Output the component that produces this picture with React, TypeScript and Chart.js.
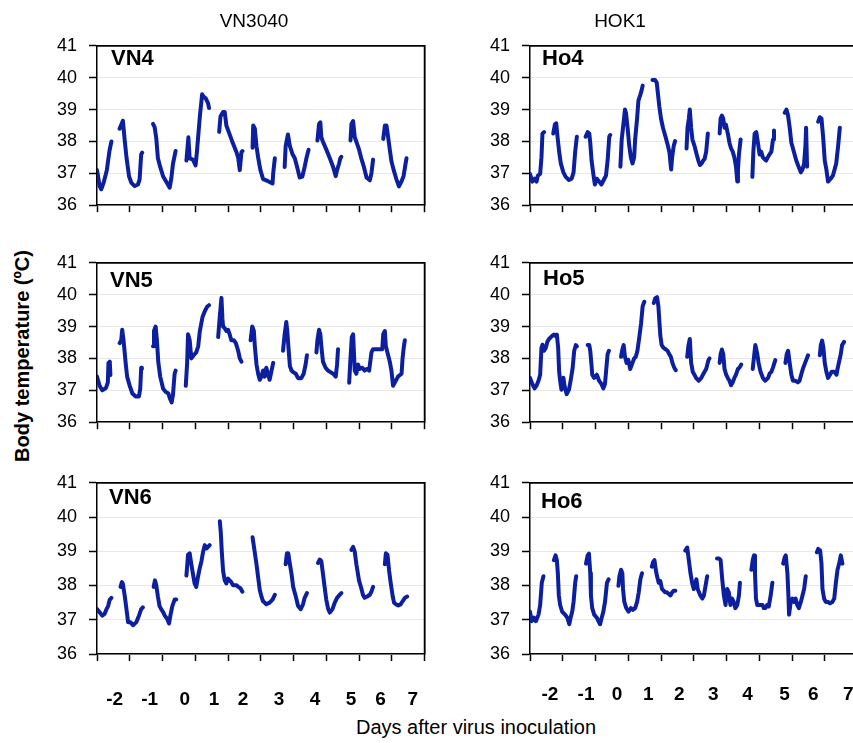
import React, { useEffect, useRef } from "react";
import { Chart, registerables } from "chart.js";

Chart.register(...registerables);

type Pt = [number, number];
type Seg = Pt[];

// x = recording time in tick units (one tick = one day), y = body temperature (°C)
const Y_TICKS = [36, 37, 38, 39, 40, 41];
const DAY_LABELS = ["-2", "-1", "0", "1", "2", "3", "4", "5", "6", "7"];
const LEFT_LABEL_POS = [0.54, 1.61, 2.68, 3.57, 4.46, 5.56, 6.66, 7.76, 8.66, 9.64];
const RIGHT_LABEL_POS = [0.61, 1.71, 2.66, 3.61, 4.56, 5.6, 6.64, 7.77, 8.65, 9.72];

const VN4: Seg[] = [
  [[0, 37.1], [0.08, 36.6], [0.13, 36.5], [0.2, 36.7], [0.3, 37.1], [0.38, 37.7], [0.44, 38.0]],
  [[0.69, 38.4], [0.79, 38.65], [0.85, 38.0], [0.9, 37.5], [0.98, 36.9], [1.05, 36.7], [1.15, 36.6], [1.25, 36.65], [1.3, 36.8], [1.35, 37.6], [1.38, 37.65]],
  [[1.71, 38.55], [1.76, 38.45], [1.81, 38.1], [1.86, 37.47], [1.93, 37.2], [2.02, 36.9], [2.12, 36.73], [2.22, 36.55], [2.27, 36.85], [2.32, 37.3], [2.4, 37.7]],
  [[2.73, 37.4], [2.79, 38.13], [2.83, 37.47], [2.93, 37.43], [3.01, 37.25], [3.05, 37.66], [3.14, 38.78], [3.21, 39.48], [3.26, 39.4], [3.32, 39.35], [3.39, 39.2], [3.42, 39.05]],
  [[3.73, 38.3], [3.77, 38.78], [3.85, 38.92], [3.9, 38.92], [3.95, 38.5], [4.05, 38.22], [4.15, 37.94], [4.26, 37.66], [4.31, 37.5], [4.36, 37.1], [4.41, 37.66], [4.44, 37.7]],
  [[4.75, 37.8], [4.77, 38.5], [4.82, 38.4], [4.87, 37.85], [4.92, 37.5], [4.99, 37.1], [5.07, 36.82], [5.17, 36.78], [5.27, 36.73], [5.36, 36.68], [5.38, 37.0], [5.43, 37.47]],
  [[5.73, 37.2], [5.76, 37.85], [5.83, 38.22], [5.89, 37.85], [5.97, 37.6], [6.04, 37.47], [6.11, 37.2], [6.19, 36.87], [6.27, 36.9], [6.34, 37.2], [6.4, 37.5], [6.46, 37.74]],
  [[6.73, 38.03], [6.78, 38.55], [6.82, 38.6], [6.85, 38.13], [6.9, 37.99], [7.0, 37.75], [7.11, 37.47], [7.21, 37.2], [7.29, 36.91], [7.33, 37.1], [7.39, 37.3], [7.43, 37.47], [7.46, 37.52]],
  [[7.74, 38.03], [7.77, 38.55], [7.82, 38.64], [7.87, 38.13], [7.92, 37.99], [8.0, 37.75], [8.07, 37.47], [8.15, 37.2], [8.23, 36.87], [8.33, 36.78], [8.38, 37.0], [8.43, 37.43]],
  [[8.74, 38.08], [8.79, 38.5], [8.84, 38.5], [8.89, 38.13], [8.94, 37.75], [8.99, 37.38], [9.06, 37.1], [9.14, 36.82], [9.22, 36.59], [9.29, 36.73], [9.36, 36.91], [9.42, 37.29], [9.45, 37.47]],
];

const VN5: Seg[] = [
  [[0, 37.43], [0.08, 37.14], [0.16, 37.0], [0.27, 37.07], [0.33, 37.24], [0.35, 37.86], [0.39, 37.9], [0.41, 37.48]],
  [[0.69, 38.48], [0.74, 38.57], [0.77, 38.9], [0.81, 38.57], [0.88, 37.81], [0.92, 37.43], [1.0, 37.14], [1.08, 36.9], [1.18, 36.81], [1.28, 36.81], [1.32, 37.05], [1.35, 37.71], [1.37, 37.67]],
  [[1.71, 38.38], [1.74, 38.86], [1.79, 39.0], [1.83, 38.57], [1.87, 37.9], [1.93, 37.43], [2.02, 37.05], [2.1, 36.95], [2.18, 36.9], [2.22, 36.76], [2.28, 36.62], [2.32, 36.86], [2.37, 37.52], [2.4, 37.62]],
  [[2.71, 37.14], [2.75, 37.81], [2.78, 38.76], [2.83, 38.57], [2.88, 38.0], [2.95, 38.1], [3.03, 38.19], [3.09, 38.38], [3.14, 38.86], [3.22, 39.29], [3.29, 39.48], [3.36, 39.62], [3.42, 39.67]],
  [[3.7, 38.67], [3.75, 39.33], [3.8, 39.9], [3.83, 39.24], [3.85, 39.0], [3.9, 38.95], [3.95, 38.86], [4.0, 38.9], [4.05, 38.76], [4.1, 38.57], [4.18, 38.57], [4.24, 38.48], [4.31, 38.24], [4.36, 38.0], [4.41, 37.9]],
  [[4.69, 38.57], [4.74, 39.0], [4.79, 38.86], [4.82, 38.38], [4.87, 37.81], [4.92, 37.52], [4.97, 37.33], [5.02, 37.43], [5.07, 37.62], [5.12, 37.43], [5.17, 37.71], [5.22, 37.52], [5.27, 37.33], [5.33, 37.62], [5.38, 37.86]],
  [[5.68, 38.24], [5.73, 38.76], [5.78, 39.14], [5.81, 38.86], [5.85, 38.29], [5.89, 37.76], [5.94, 37.62], [5.99, 37.57], [6.07, 37.52], [6.14, 37.38], [6.24, 37.38], [6.31, 37.52], [6.37, 37.81], [6.41, 38.1]],
  [[6.7, 38.19], [6.73, 38.57], [6.78, 38.9], [6.82, 38.76], [6.85, 38.38], [6.9, 37.9], [6.98, 37.71], [7.05, 37.62], [7.13, 37.57], [7.21, 37.52], [7.29, 37.43], [7.33, 37.81], [7.36, 38.29]],
  [[7.7, 37.24], [7.74, 38.0], [7.78, 38.67], [7.82, 38.76], [7.87, 37.62], [7.92, 37.52], [7.97, 37.81], [8.02, 37.67], [8.1, 37.71], [8.17, 37.62], [8.24, 37.67], [8.31, 37.62],
   [8.38, 38.19], [8.43, 38.29], [8.53, 38.29], [8.63, 38.29], [8.71, 38.29], [8.74, 38.76], [8.79, 38.86], [8.82, 38.38], [8.89, 38.1], [8.94, 37.9], [8.99, 37.62], [9.04, 37.14], [9.09, 37.24], [9.14, 37.33], [9.19, 37.43], [9.25, 37.48], [9.3, 37.52], [9.33, 38.0], [9.37, 38.38], [9.4, 38.57]],
];

const VN6: Seg[] = [
  [[0, 37.31], [0.08, 37.22], [0.16, 37.12], [0.23, 37.17], [0.29, 37.31], [0.34, 37.4], [0.39, 37.59], [0.44, 37.64]],
  [[0.72, 37.96], [0.76, 38.1], [0.79, 38.05], [0.85, 37.68], [0.9, 37.31], [0.95, 36.93], [1.02, 36.93], [1.1, 36.84], [1.2, 36.93], [1.28, 37.12], [1.35, 37.31], [1.4, 37.36]],
  [[1.73, 37.96], [1.77, 38.15], [1.81, 38.01], [1.86, 37.68], [1.91, 37.4], [1.96, 37.31], [2.02, 37.22], [2.07, 37.12], [2.14, 37.03], [2.2, 36.89], [2.24, 37.12], [2.3, 37.4], [2.37, 37.59], [2.42, 37.59]],
  [[2.73, 38.29], [2.78, 38.9], [2.83, 38.94], [2.88, 38.62], [2.93, 38.34], [2.98, 38.06], [3.03, 37.96], [3.08, 38.24], [3.14, 38.52], [3.19, 38.71], [3.24, 38.99], [3.29, 39.18], [3.34, 39.08], [3.39, 39.13], [3.44, 39.18]],
  [[3.75, 39.88], [3.78, 39.55], [3.81, 38.99], [3.85, 38.43], [3.9, 38.15], [3.95, 38.06], [4.0, 38.2], [4.05, 38.15], [4.1, 38.1], [4.15, 38.01], [4.26, 38.01], [4.31, 37.96], [4.38, 37.92], [4.44, 37.82]],
  [[4.75, 39.41], [4.8, 39.08], [4.87, 38.62], [4.92, 38.24], [4.97, 37.87], [5.02, 37.68], [5.07, 37.54], [5.12, 37.5], [5.17, 37.45], [5.27, 37.5], [5.36, 37.59], [5.43, 37.73]],
  [[5.76, 38.62], [5.8, 38.94], [5.84, 38.94], [5.89, 38.62], [5.94, 38.34], [5.99, 37.96], [6.07, 37.68], [6.14, 37.4], [6.22, 37.31], [6.29, 37.45], [6.34, 37.64], [6.41, 37.78]],
  [[6.75, 38.66], [6.8, 38.76], [6.85, 38.71], [6.9, 38.34], [6.95, 37.96], [7.0, 37.59], [7.06, 37.31], [7.11, 37.21], [7.19, 37.31], [7.26, 37.5], [7.33, 37.64], [7.41, 37.73], [7.46, 37.78]],
  [[7.77, 39.04], [7.82, 39.13], [7.87, 38.99], [7.92, 38.62], [8.0, 38.15], [8.07, 37.92], [8.12, 37.73], [8.17, 37.64], [8.25, 37.68], [8.33, 37.73], [8.38, 37.82], [8.43, 37.96]],
  [[8.79, 38.62], [8.82, 38.94], [8.87, 38.9], [8.92, 38.43], [8.97, 38.06], [9.03, 37.68], [9.07, 37.5], [9.13, 37.45], [9.2, 37.42], [9.27, 37.45], [9.33, 37.54], [9.4, 37.64], [9.47, 37.68]],
];

const HO4: Seg[] = [
  [[0, 36.98], [0.07, 36.74], [0.14, 36.83], [0.2, 36.74], [0.24, 36.93], [0.31, 36.98], [0.35, 37.5], [0.38, 38.25], [0.43, 38.29]],
  [[0.71, 38.25], [0.76, 38.53], [0.8, 38.57], [0.84, 38.15], [0.89, 37.68], [0.94, 37.31], [1.02, 37.03], [1.09, 36.89], [1.19, 36.79], [1.27, 36.83], [1.33, 37.03], [1.38, 37.68], [1.43, 38.15]],
  [[1.7, 38.15], [1.76, 38.29], [1.81, 38.25], [1.84, 37.96], [1.88, 37.4], [1.94, 36.93], [1.98, 36.65], [2.04, 36.83], [2.11, 36.74], [2.18, 36.65], [2.27, 36.83], [2.32, 36.93], [2.37, 37.4], [2.42, 38.15], [2.45, 38.2]],
  [[2.76, 37.21], [2.8, 38.06], [2.86, 38.62], [2.9, 39.0], [2.93, 38.9], [2.98, 38.43], [3.03, 37.87], [3.08, 37.5], [3.13, 37.31], [3.18, 37.5], [3.21, 38.06], [3.27, 38.72], [3.31, 39.28], [3.37, 39.47], [3.41, 39.61], [3.44, 39.75]],
  [[3.74, 39.93], [3.82, 39.93], [3.87, 39.84], [3.9, 39.56], [3.95, 39.09], [4.0, 38.72], [4.06, 38.43], [4.11, 38.25], [4.16, 38.06], [4.21, 37.87], [4.26, 37.64], [4.29, 37.31], [4.31, 37.12], [4.34, 37.5], [4.39, 37.87], [4.43, 38.01]],
  [[4.78, 37.78], [4.81, 38.43], [4.85, 38.72], [4.88, 39.0], [4.92, 38.43], [4.96, 38.06], [5.02, 37.87], [5.09, 37.59], [5.14, 37.4], [5.19, 37.26], [5.24, 37.31], [5.29, 37.4], [5.33, 37.45], [5.38, 37.68], [5.43, 38.25]],
  [[5.79, 38.25], [5.82, 38.72], [5.86, 38.81], [5.9, 38.72], [5.94, 38.43], [5.98, 38.53], [6.04, 38.25], [6.09, 37.96], [6.14, 37.78], [6.19, 37.68], [6.24, 37.5], [6.29, 37.21], [6.33, 36.74], [6.35, 37.12], [6.38, 37.59], [6.43, 38.06]],
  [[6.79, 36.89], [6.82, 37.68], [6.86, 38.25], [6.91, 38.29], [6.96, 37.96], [7.01, 37.59], [7.06, 37.68], [7.11, 37.5], [7.16, 37.45], [7.21, 37.4], [7.26, 37.5], [7.31, 37.59], [7.37, 37.68], [7.42, 38.06], [7.45, 38.34]],
  [[7.78, 38.9], [7.83, 39.0], [7.88, 38.81], [7.93, 38.43], [7.98, 37.96], [8.03, 37.78], [8.08, 37.59], [8.13, 37.4], [8.2, 37.21], [8.27, 37.03], [8.32, 37.12], [8.37, 37.31], [8.41, 37.87], [8.43, 38.43], [8.46, 37.21]],
  [[8.8, 38.62], [8.85, 38.76], [8.9, 38.72], [8.95, 38.15], [9.0, 37.4], [9.05, 37.12], [9.1, 36.74], [9.18, 36.83], [9.25, 36.93], [9.3, 37.12], [9.35, 37.31], [9.41, 37.87], [9.46, 38.43]],
];

const HO5: Seg[] = [
  [[0, 37.39], [0.07, 37.2], [0.14, 37.06], [0.2, 37.15], [0.26, 37.3], [0.31, 37.49], [0.35, 38.33], [0.38, 38.43], [0.43, 38.24], [0.48, 38.33], [0.53, 38.52], [0.58, 38.61], [0.63, 38.66], [0.68, 38.71], [0.73, 38.75], [0.78, 38.71], [0.82, 38.75], [0.86, 38.33], [0.89, 37.58], [0.92, 37.3], [0.96, 37.02], [0.99, 37.3], [1.02, 37.39], [1.06, 37.11], [1.12, 36.88], [1.19, 37.02], [1.24, 37.3], [1.3, 37.68], [1.35, 38.24], [1.4, 38.42], [1.43, 38.38]],
  [[1.76, 38.42], [1.81, 38.42], [1.84, 38.24], [1.88, 37.77], [1.9, 37.49], [1.96, 37.39], [2.04, 37.49], [2.11, 37.3], [2.18, 37.2], [2.24, 37.06], [2.29, 37.2], [2.33, 37.68], [2.37, 38.14], [2.41, 38.24]],
  [[2.78, 38.05], [2.81, 38.24], [2.86, 38.42], [2.9, 38.05], [2.95, 37.86], [3.0, 37.96], [3.06, 37.67], [3.13, 37.86], [3.18, 38.0], [3.23, 38.05], [3.28, 38.24], [3.33, 38.61], [3.39, 39.08], [3.44, 39.64], [3.49, 39.78]],
  [[3.78, 39.74], [3.82, 39.88], [3.88, 39.92], [3.92, 39.64], [3.95, 39.17], [3.98, 38.71], [4.02, 38.42], [4.08, 38.33], [4.15, 38.28], [4.2, 38.24], [4.25, 38.14], [4.3, 38.05], [4.35, 37.86], [4.4, 37.72], [4.45, 37.63]],
  [[4.8, 38.05], [4.84, 38.42], [4.88, 38.61], [4.92, 37.86], [4.97, 37.58], [5.02, 37.49], [5.07, 37.39], [5.15, 37.3], [5.23, 37.39], [5.28, 37.49], [5.33, 37.58], [5.38, 37.67], [5.45, 37.95], [5.48, 38.0]],
  [[5.79, 37.86], [5.82, 38.14], [5.86, 38.28], [5.9, 38.14], [5.94, 37.67], [5.99, 37.49], [6.04, 37.39], [6.09, 37.3], [6.14, 37.16], [6.19, 37.25], [6.24, 37.39], [6.29, 37.49], [6.35, 37.67], [6.4, 37.72], [6.45, 37.81]],
  [[6.8, 37.67], [6.84, 38.05], [6.88, 38.42], [6.94, 38.14], [6.98, 37.86], [7.04, 37.58], [7.11, 37.39], [7.18, 37.3], [7.27, 37.39], [7.32, 37.53], [7.37, 37.58], [7.42, 37.72], [7.49, 37.95]],
  [[7.8, 37.86], [7.84, 38.14], [7.88, 38.24], [7.93, 37.86], [7.98, 37.49], [8.03, 37.3], [8.1, 37.3], [8.18, 37.25], [8.23, 37.3], [8.28, 37.49], [8.33, 37.67], [8.4, 37.86], [8.49, 38.1]],
  [[8.85, 38.1], [8.88, 38.42], [8.92, 38.56], [8.96, 38.33], [9.0, 37.86], [9.05, 37.58], [9.1, 37.39], [9.16, 37.49], [9.21, 37.58], [9.29, 37.58], [9.36, 37.49], [9.39, 37.67], [9.43, 37.86], [9.49, 38.14], [9.53, 38.42], [9.59, 38.52]],
];

const HO6: Seg[] = [
  [[0, 37.24], [0.05, 36.96], [0.12, 37.06], [0.18, 36.96], [0.26, 37.15], [0.31, 37.43], [0.36, 38.08], [0.41, 38.27]],
  [[0.73, 38.74], [0.78, 38.88], [0.82, 38.74], [0.85, 38.36], [0.88, 37.71], [0.92, 37.43], [0.98, 37.24], [1.07, 37.15], [1.14, 37.06], [1.2, 36.87], [1.24, 37.06], [1.29, 37.24], [1.33, 37.52], [1.38, 38.08], [1.41, 38.27]],
  [[1.71, 38.64], [1.76, 38.88], [1.8, 38.93], [1.84, 38.36], [1.86, 37.71], [1.9, 37.34], [1.96, 37.15], [2.04, 37.06], [2.09, 36.96], [2.14, 36.87], [2.19, 37.06], [2.24, 37.24], [2.29, 37.52], [2.35, 38.08], [2.4, 38.18]],
  [[2.7, 37.99], [2.73, 38.27], [2.78, 38.46], [2.82, 38.36], [2.84, 37.9], [2.88, 37.52], [2.94, 37.34], [3.01, 37.24], [3.08, 37.34], [3.14, 37.29], [3.21, 37.34], [3.27, 37.52], [3.32, 37.8], [3.37, 38.18], [3.42, 38.36]],
  [[3.72, 38.55], [3.76, 38.69], [3.8, 38.74], [3.84, 38.46], [3.88, 38.27], [3.93, 38.08], [3.98, 38.13], [4.03, 37.9], [4.08, 37.85], [4.13, 37.8], [4.18, 37.8], [4.23, 37.76], [4.29, 37.71], [4.34, 37.8], [4.39, 37.85], [4.44, 37.85]],
  [[4.74, 39.02], [4.8, 39.11], [4.85, 38.74], [4.9, 38.36], [4.95, 38.08], [5.0, 37.9], [5.05, 38.08], [5.08, 38.18], [5.12, 37.9], [5.2, 37.71], [5.26, 37.62], [5.31, 37.71], [5.36, 37.99], [5.41, 38.27]],
  [[5.71, 38.79], [5.77, 38.79], [5.82, 38.74], [5.87, 38.18], [5.92, 37.71], [5.97, 37.43], [6.02, 37.9], [6.07, 37.8], [6.12, 37.43], [6.17, 37.62], [6.22, 37.52], [6.27, 37.34], [6.33, 37.43], [6.38, 37.71], [6.41, 38.08]],
  [[6.76, 38.46], [6.8, 38.74], [6.84, 38.88], [6.87, 38.36], [6.9, 37.62], [6.94, 37.43], [7.02, 37.43], [7.1, 37.43], [7.14, 37.34], [7.19, 37.34], [7.24, 37.43], [7.29, 37.39], [7.35, 37.71], [7.4, 38.08]],
  [[7.73, 38.64], [7.78, 38.83], [7.81, 38.88], [7.86, 38.36], [7.89, 37.71], [7.91, 37.15], [7.96, 37.52], [8.01, 37.62], [8.06, 37.52], [8.11, 37.62], [8.16, 37.43], [8.21, 37.34], [8.27, 37.52], [8.32, 37.71], [8.37, 37.9], [8.42, 38.27]],
  [[8.76, 38.97], [8.8, 39.07], [8.86, 39.02], [8.9, 38.64], [8.93, 37.9], [8.98, 37.62], [9.03, 37.52], [9.1, 37.52], [9.16, 37.48], [9.23, 37.52], [9.29, 37.62], [9.34, 38.08], [9.39, 38.46], [9.44, 38.64], [9.49, 38.88], [9.54, 38.64]],
];

const FONT = '"Liberation Sans", Arial, Helvetica, sans-serif';
const LINE_COLOR = "#0c1f9f";

function toData(segs: Seg[]) {
  const out: { x: number; y: number | null }[] = [];
  segs.forEach((s, i) => {
    if (i > 0) {
      const prev = segs[i - 1];
      out.push({ x: (prev[prev.length - 1][0] + s[0][0]) / 2, y: null });
    }
    s.forEach(([x, y]) => out.push({ x, y }));
  });
  return out;
}

const framePlugin = {
  id: "frameBox",
  afterDatasetsDraw(chart: any) {
    const ctx = chart.ctx;
    const a = chart.chartArea;
    ctx.save();
    ctx.strokeStyle = "#000";
    ctx.lineWidth = 1.5;
    ctx.beginPath();
    ctx.moveTo(a.left, a.top);
    ctx.lineTo(a.right, a.top);
    ctx.lineTo(a.right, a.bottom);
    ctx.stroke();
    ctx.restore();
  },
};

type PanelProps = {
  segs: Seg[];
  left: number;
  top: number;
  plotH: number;
  labelPos: number[] | null;
  labelPad: number;
};

function Panel({ segs, left, top, plotH, labelPos, labelPad }: PanelProps) {
  const ref = useRef<HTMLCanvasElement>(null);
  const W = 400;
  const padTop = 15;
  const yW = 60;
  const xH = 12;
  const xlH = labelPos ? 44 : 0;
  const H = padTop + plotH + xH + xlH;

  useEffect(() => {
    const frameAxis = {
      display: true,
      ticks: { display: false },
      grid: { display: false, drawTicks: false },
      border: { display: true, color: "#000", width: 1.5 },
    };
    const chart = new Chart(ref.current as HTMLCanvasElement, {
      type: "line",
      data: {
        datasets: [
          {
            data: toData(segs) as any,
            borderColor: LINE_COLOR,
            borderWidth: 4,
            pointRadius: 0,
            spanGaps: false,
            tension: 0,
            borderJoinStyle: "round",
            borderCapStyle: "round",
          },
        ],
      },
      options: {
        responsive: false,
        animation: false,
        layout: { padding: { top: padTop, right: 12.5, left: 0, bottom: 0 } },
        plugins: { legend: { display: false }, tooltip: { enabled: false } },
        scales: {
          x: {
            type: "linear",
            position: "bottom",
            weight: 0,
            min: 0,
            max: 10,
            ticks: { display: false, stepSize: 1 },
            grid: {
              display: true,
              drawOnChartArea: false,
              drawTicks: true,
              tickLength: 7,
              tickColor: "#000",
              tickWidth: 1.5,
              color: "#000",
            },
            border: { display: true, color: "#000", width: 1.5 },
            afterFit: (s: any) => {
              s.height = xH;
            },
          },
          xl: {
            type: "linear",
            position: "bottom",
            weight: 1,
            display: !!labelPos,
            min: 0,
            max: 10,
            grid: { display: false },
            border: { display: false },
            afterBuildTicks: (s: any) => {
              s.ticks = (labelPos || []).map((v) => ({ value: v }));
            },
            ticks: {
              autoSkip: false,
              maxRotation: 0,
              minRotation: 0,
              padding: labelPad,
              color: "#000",
              font: { family: FONT, size: 19, weight: "bold" },
              callback: (_v: any, i: number) => DAY_LABELS[i],
            },
            afterFit: (s: any) => {
              s.height = xlH;
            },
          },
          xt: {
            ...frameAxis,
            type: "linear",
            position: "top",
            min: 0,
            max: 10,
            afterFit: (s: any) => {
              s.height = 0;
            },
          },
          y: {
            type: "linear",
            min: 36,
            max: 41,
            afterBuildTicks: (s: any) => {
              s.ticks = Y_TICKS.map((v) => ({ value: v }));
            },
            ticks: { color: "#000", padding: 12, font: { family: FONT, size: 18 } },
            grid: {
              color: "#e8e8e8",
              lineWidth: 1,
              drawTicks: true,
              tickLength: 8,
              tickColor: "#000",
              tickWidth: 1.5,
            },
            border: { display: true, color: "#000", width: 1.5 },
            afterFit: (s: any) => {
              s.width = yW;
            },
          },
          yr: {
            ...frameAxis,
            type: "linear",
            position: "right",
            min: 36,
            max: 41,
            afterFit: (s: any) => {
              s.width = 0;
            },
          },
        },
      } as any,
      plugins: [framePlugin],
    });
    return () => chart.destroy();
  }, []);

  return (
    <canvas
      ref={ref}
      width={W}
      height={H}
      style={{ position: "absolute", left, top: top - padTop, width: W, height: H }}
    />
  );
}

function Label({ text, x, y, size, bold, center }: { text: string; x: number; y: number; size: number; bold?: boolean; center?: boolean }) {
  return (
    <div
      style={{
        position: "absolute",
        left: x,
        top: y,
        fontSize: size,
        lineHeight: `${size}px`,
        fontWeight: bold ? "bold" : "normal",
        whiteSpace: "nowrap",
        transform: center ? "translate(-50%, -50%)" : "translate(0, -50%)",
        color: "#000",
      }}
    >
      {text}
    </div>
  );
}

export default function App() {
  return (
    <div
      style={{
        position: "absolute",
        left: 0,
        top: 0,
        width: 853,
        height: 743,
        overflow: "hidden",
        background: "#fff",
        fontFamily: FONT,
      }}
    >
      <Panel segs={VN4} left={37} top={38} plotH={178} labelPos={null} labelPad={0} />
      <Panel segs={VN5} left={37} top={255} plotH={178} labelPos={null} labelPad={0} />
      <Panel segs={VN6} left={37} top={475} plotH={179} labelPos={LEFT_LABEL_POS} labelPad={14} />
      <Panel segs={HO4} left={470} top={38} plotH={178} labelPos={null} labelPad={0} />
      <Panel segs={HO5} left={470} top={255} plotH={178} labelPos={null} labelPad={0} />
      <Panel segs={HO6} left={470} top={475} plotH={179} labelPos={RIGHT_LABEL_POS} labelPad={9} />

      <Label text="VN3040" x={254} y={20} size={19} center />
      <Label text="HOK1" x={620} y={20} size={19} center />
      <Label text="VN4" x={111} y={58} size={22} bold />
      <Label text="VN5" x={110} y={280} size={22} bold />
      <Label text="VN6" x={109} y={497} size={22} bold />
      <Label text="Ho4" x={542} y={58} size={22} bold />
      <Label text="Ho5" x={543} y={278} size={22} bold />
      <Label text="Ho6" x={541} y={501} size={22} bold />
      <Label text="Days after virus inoculation" x={476} y={727} size={20} center />
      <div
        style={{
          position: "absolute",
          left: 22,
          top: 356,
          fontSize: 20,
          lineHeight: "20px",
          fontWeight: "bold",
          whiteSpace: "nowrap",
          transform: "translate(-50%, -50%) rotate(-90deg)",
          color: "#000",
        }}
      >
        Body temperature (ºC)
      </div>
    </div>
  );
}
